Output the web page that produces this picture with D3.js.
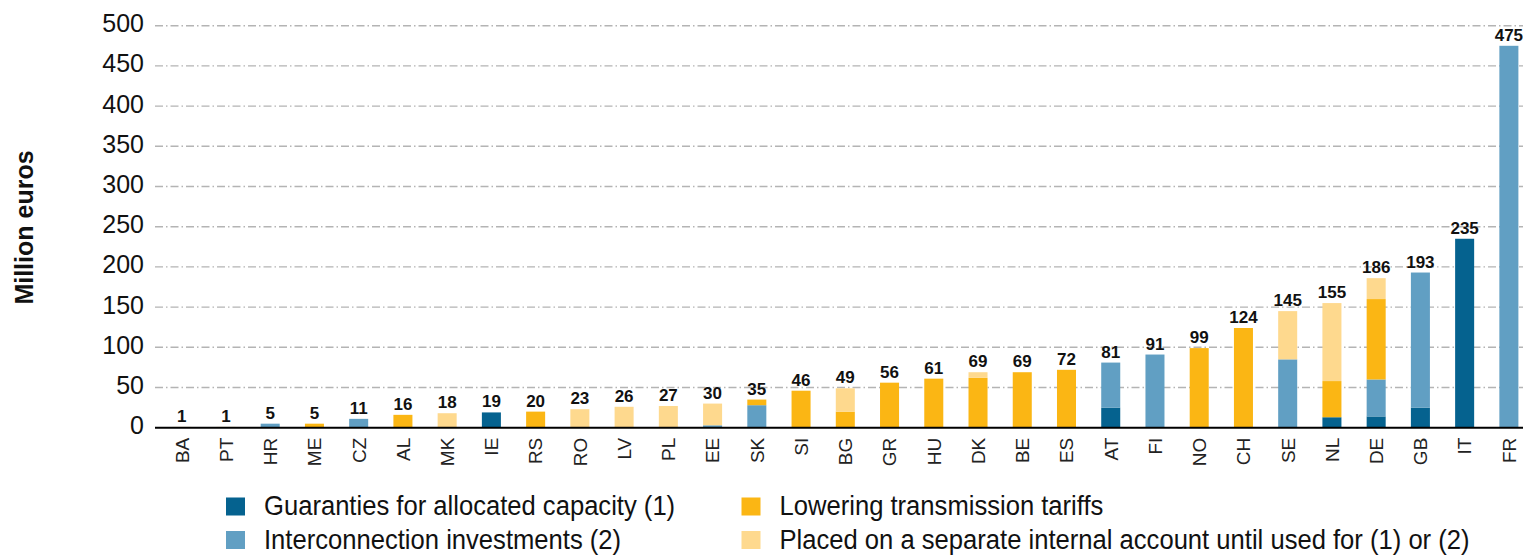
<!DOCTYPE html>
<html><head><meta charset="utf-8">
<script src="https://cdn.jsdelivr.net/npm/d3@7"></script>
<style>
body{margin:0;background:#fff;}
svg{display:block;}
.narrow{font-family:"Liberation Sans",Arial,sans-serif;}
</style></head>
<body>
<svg id="chart" width="1523" height="556"></svg>
<script>
const categories = ["BA","PT","HR","ME","CZ","AL","MK","IE","RS","RO","LV","PL","EE","SK","SI","BG","GR","HU","DK","BE","ES","AT","FI","NO","CH","SE","NL","DE","GB","IT","FR"];
const guaranties      = [0,0,0,0,0,0,0,19,0,0,0,0,0,0,0,0,0,0,0,0,0,25,0,0,0,0,13,14,25,235,0];
const interconnection = [0,0,5,0,11,0,0,0,0,0,0,0,3,28,0,0,0,0,0,0,0,56,91,0,0,85,0,46,168,0,475];
const lowering        = [0,0,0,5,0,16,0,0,20,0,0,0,0,7,46,20,56,61,62,69,72,0,0,99,124,0,45,100,0,0,0];
const separate        = [1,1,0,0,0,0,18,0,0,23,26,27,27,0,0,29,0,0,7,0,0,0,0,0,0,60,97,26,0,0,0];
const totals          = [1,1,5,5,11,16,18,19,20,23,26,27,30,35,46,49,56,61,69,69,72,81,91,99,124,145,155,186,193,235,475];
const yTicks = [0,50,100,150,200,250,300,350,400,450,500];
const seriesNames = ["Guaranties for allocated capacity (1)","Interconnection investments (2)","Lowering transmission tariffs","Placed on a separate internal account until used for (1) or (2)"];
const seriesColors = ["#05628f","#619fc3","#fbb614","#fed98e"];
const yLabel = "Million euros";

const svg = d3.select("#chart");
const W = 1523;
const x = d3.scaleBand().domain(categories).range([159.6, 1531]).paddingInner(0.57).paddingOuter(0.285);
const y = d3.scaleLinear().domain([0,500]).range([427.7, 25.7]);
const gridX0 = 155;

// gridlines
svg.append("g").selectAll("line").data(yTicks.filter(d=>d>0)).join("line")
  .attr("x1", gridX0).attr("x2", W)
  .attr("y1", d=>y(d)).attr("y2", d=>y(d))
  .attr("stroke","#b4b4b4").attr("stroke-width",1.4)
  .attr("stroke-dasharray","8,3,1.5,3");

// y axis tick labels
const yAxis = d3.axisLeft(y).tickValues(yTicks).tickSize(0).tickPadding(0);
const gy = svg.append("g").attr("transform",`translate(144,-3)`).call(yAxis);
gy.select(".domain").remove();
gy.selectAll("text").attr("class","narrow").style("font-size","25px").attr("fill","#111").attr("dy","0.36em");

// y label
svg.append("text").attr("class","narrow")
  .attr("transform","translate(33,227.5) rotate(-90)")
  .attr("text-anchor","middle")
  .style("font-size","25px").style("font-weight","bold").attr("fill","#111")
  .text(yLabel);

// stacked data
const rows = categories.map((c,i)=>({cat:c, s0:guaranties[i], s1:interconnection[i], s2:lowering[i], s3:separate[i]}));
const stacked = d3.stack().keys(["s0","s1","s2","s3"])(rows);

svg.append("g").selectAll("g").data(stacked).join("g")
  .attr("fill",(d,i)=>seriesColors[i])
  .selectAll("rect").data(d=>d).join("rect")
  .attr("x",d=>x(d.data.cat)).attr("width",x.bandwidth())
  .attr("y",d=>y(d[1])).attr("height",d=>y(d[0])-y(d[1]));

// x axis
const xAxis = d3.axisBottom(x).tickSize(0).tickPadding(0);
const gx = svg.append("g").attr("transform",`translate(0,${y(0)})`).call(xAxis);
gx.select(".domain").remove();
gx.selectAll("text").attr("class","narrow").style("font-size","19px").attr("fill","#222")
  .attr("text-anchor","end").attr("transform","rotate(-90)")
  .attr("x",-10).attr("y",0).attr("dy","0.36em");
svg.append("line").attr("x1",gridX0).attr("x2",W).attr("y1",y(0)).attr("y2",y(0))
  .attr("stroke","#000").attr("stroke-width",2);

// value labels
const topLayer = stacked[stacked.length-1];
svg.append("g").selectAll("text").data(categories).join("text").attr("class","narrow")
  .attr("x",c=>x(c)+x.bandwidth()/2)
  .attr("y",(c,i)=>y(topLayer[i][1])-5)
  .attr("text-anchor","middle")
  .style("font-size","17px").style("font-weight","bold").attr("fill","#111")
  .text((c,i)=>totals[i]);

// legend
const legPos = [[226,515],[226,548.5],[741.5,515],[741.5,548.5]];
const leg = svg.append("g").selectAll("g").data(seriesNames).join("g")
  .attr("transform",(d,i)=>`translate(${legPos[i][0]},${legPos[i][1]})`);
leg.append("rect").attr("x",0).attr("y",-17.5).attr("width",19).attr("height",18).attr("fill",(d,i)=>seriesColors[i]);
leg.append("text").attr("class","narrow")
  .attr("transform","translate(38,0) scale(0.985,1.05)")
  .style("font-size","26px").attr("fill","#111").text(d=>d);
</script>
</body></html>
